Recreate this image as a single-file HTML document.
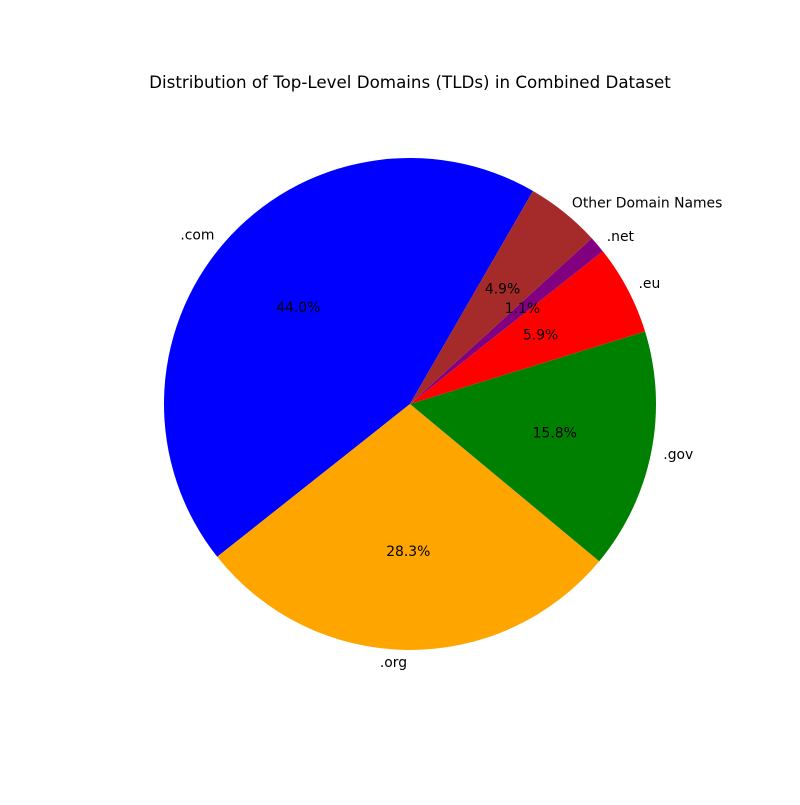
<!DOCTYPE html>
<html><head><meta charset="utf-8"><style>
body{margin:0;background:#fff}
svg text{font-family:"DejaVu Sans","Liberation Sans",sans-serif}
</style></head><body>
<svg id="chart" width="800" height="800" viewBox="0 0 800 800" xmlns="http://www.w3.org/2000/svg">
<rect width="800" height="800" fill="#fff"/>
<text x="410" y="88" text-anchor="middle" font-size="16.7" fill="#000">Distribution of Top-Level Domains (TLDs) in Combined Dataset</text>
<g id="wedges"></g><g id="labels"></g>
</svg>
<script>
const categories = [".com", ".org", ".gov", ".eu", ".net", "Other Domain Names"];
const shares = [44.0, 28.3, 15.8, 5.9, 1.1, 4.9];
const colors = ["blue", "orange", "green", "red", "purple", "brown"];
const cx = 410, cy = 404, r = 246, startAngle = 60;
const ns = "http://www.w3.org/2000/svg";
const wg = document.getElementById('wedges'), lg = document.getElementById('labels');
const total = shares.reduce((a,b)=>a+b,0);
let a0 = startAngle;
function pt(deg, rad){const t=deg*Math.PI/180;return [cx+rad*Math.cos(t), cy-rad*Math.sin(t)];}
shares.forEach((v,i)=>{
  const sweep = v/total*360, a1 = a0+sweep;
  const p0 = pt(a0,r), p1 = pt(a1,r);
  const path = document.createElementNS(ns,'path');
  path.setAttribute('d',`M${cx},${cy} L${p0[0]},${p0[1]} A${r},${r} 0 ${sweep>180?1:0} 0 ${p1[0]},${p1[1]} Z`);
  path.setAttribute('fill',colors[i]);
  
  
  wg.appendChild(path);
  const mid = (a0+a1)/2;
  const lp = pt(mid, r*1.05);
  const lt = document.createElementNS(ns,'text');
  lt.setAttribute('x',lp[0]); lt.setAttribute('y',lp[1]+4.5);
  lt.setAttribute('font-size','13.9');
  lt.setAttribute('text-anchor', Math.cos(mid*Math.PI/180)>=0?'start':'end');
  lt.textContent = categories[i];
  
  
  lg.appendChild(lt);
  const pp = pt(mid, r*0.6);
  const pt2 = document.createElementNS(ns,'text');
  pt2.setAttribute('x',pp[0]); pt2.setAttribute('y',pp[1]+4.5);
  pt2.setAttribute('font-size','13.9');
  pt2.setAttribute('text-anchor','middle');
  pt2.textContent = v.toFixed(1)+'%';
  
  
  lg.appendChild(pt2);
  a0 = a1;
});
</script>
</body></html>
